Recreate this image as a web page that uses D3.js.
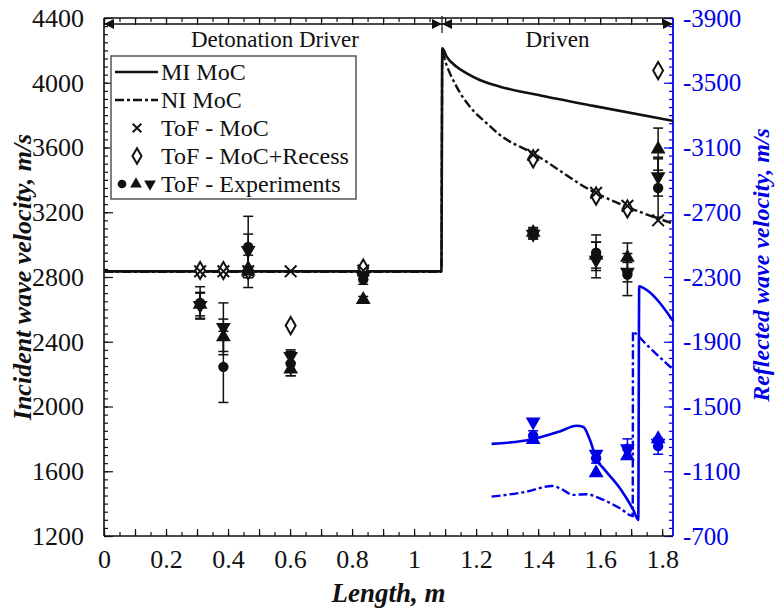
<!DOCTYPE html>
<html><head><meta charset="utf-8">
<script src="https://cdn.jsdelivr.net/npm/d3@7"></script>
<style>body{margin:0;background:#fff}svg{display:block}</style>
</head><body>
<svg id="chart" width="777" height="612"></svg>
<script>
// ---------- data ----------
const xTicks = [0, 0.2, 0.4, 0.6, 0.8, 1, 1.2, 1.4, 1.6, 1.8];
const xTickLabels = ["0", "0.2", "0.4", "0.6", "0.8", "1", "1.2", "1.4", "1.6", "1.8"];
const yTicks = [1200, 1600, 2000, 2400, 2800, 3200, 3600, 4000, 4400];
const yRTicks = [-700, -1100, -1500, -1900, -2300, -2700, -3100, -3500, -3900];

// incident MoC curves (m, m/s)
const miX = [0, 1.088, 1.091, 1.105, 1.137, 1.170, 1.212, 1.277, 1.384, 1.578, 1.835];
const miV = [2835, 2835, 4213, 4161, 4099, 4058, 4017, 3976, 3930, 3857, 3765];
const niX = [0, 1.088, 1.091, 1.096, 1.137, 1.180, 1.234, 1.277, 1.384, 1.578, 1.686, 1.835];
const niV = [2832, 2832, 4195, 4161, 3976, 3852, 3750, 3677, 3564, 3327, 3234, 3130];

// reflected MoC curves (m, m/s on right axis)
const miRX = [1.250, 1.382, 1.470, 1.524, 1.546, 1.567, 1.589, 1.610, 1.664, 1.707, 1.723, 1.726, 1.739, 1.836];
const miRV = [-1269, -1298, -1346, -1381, -1373, -1294, -1170, -1119, -995, -861, -799, -2243, -2233, -2027];
const niRX = [1.250, 1.363, 1.444, 1.470, 1.513, 1.557, 1.599, 1.664, 1.705, 1.706, 1.712, 1.750, 1.836];
const niRV = [-943, -974, -1009, -995, -954, -958, -933, -871, -824, -1964, -1955, -1882, -1727];

// time-of-flight points
const tofX = [0.310, 0.385, 0.465, 0.602, 0.836, 1.384, 1.587, 1.688, 1.787];
const tofMoC = [2835, 2835, 2835, 2835, 2840, 3555, 3320, 3240, 3150];
const tofRecess = [2840, 2840, 2840, 2500, 2855, 3530, 3300, 3220, 4075];
const expCircle = [2640, 2245, 2985, 2265, 2785, 3070, 2950, 2815, 3350];
const expCircleErr = [100, 220, 190, 75, 30, 35, 110, 130, 180];
const expUp = [2630, 2430, 2835, 2230, 2660, 3075, 2935, 2920, 3590];
const expUpErr = [70, 110, 100, 40, 20, 30, 80, 90, 130];
const expDown = [2625, 2490, 2965, 2310, 2805, 3065, 2905, 2830, 3420];
const expDownErr = [80, 150, 100, 40, 20, 30, 110, 60, 120];

// reflected experiments
const rX = [1.384, 1.587, 1.688, 1.787];
const rCircle = [-1320, -1180, -1240, -1255];
const rCircleErr = [30, 30, 60, 50];
const rUp = [-1295, -1090, -1195, -1300];
const rDown = [-1405, -1207, -1240, -1275];

const legendLabels = ["MI MoC", "NI MoC", "ToF - MoC", "ToF - MoC+Recess", "ToF - Experiments"];

// ---------- layout ----------
const L = 104, R = 673, T = 18, B = 536;
const BLUE = "#0000e6";
const FONT = "'Liberation Serif','Times New Roman',serif";
const svg = d3.select("#chart");
const x = d3.scaleLinear().domain([0, 1.835]).range([L, R]);
const y = d3.scaleLinear().domain([1200, 4400]).range([B, T]);
const yR = d3.scaleLinear().domain([-700, -3900]).range([B, T]);

function styleAxis(g, color, fs) {
  g.select(".domain").remove();
  g.selectAll("line").attr("stroke", color).attr("stroke-width", 1.2);
  g.selectAll("text").attr("fill", color).style("font-family", FONT).style("font-size", (fs || 25) + "px");
}

const minorX = d3.range(0, 1.8001, 0.05);
const midX = d3.range(0, 1.8001, 0.1);
const minorY = d3.range(1200, 4400.1, 50);
const minorYR = d3.range(-700, -3900.1, -50);

// bottom
svg.append("g").attr("transform", `translate(0,${B})`)
  .call(d3.axisBottom(x).tickValues(minorX).tickSize(-4).tickFormat("")).call(g => styleAxis(g, "#111"));
svg.append("g").attr("transform", `translate(0,${B})`)
  .call(d3.axisBottom(x).tickValues(midX).tickSize(-7).tickFormat("")).call(g => styleAxis(g, "#111"));
svg.append("g").attr("transform", `translate(0,${B})`)
  .call(d3.axisBottom(x).tickValues(xTicks).tickSize(0).tickPadding(14).tickFormat((d, i) => xTickLabels[i]))
  .call(g => styleAxis(g, "#111", 26));
// top
svg.append("g").attr("transform", `translate(0,${T})`)
  .call(d3.axisTop(x).tickValues(minorX).tickSize(-4).tickFormat("")).call(g => styleAxis(g, "#111"));
svg.append("g").attr("transform", `translate(0,${T})`)
  .call(d3.axisTop(x).tickValues(midX).tickSize(-7).tickFormat("")).call(g => styleAxis(g, "#111"));
// left
svg.append("g").attr("transform", `translate(${L},0)`)
  .call(d3.axisLeft(y).tickValues(minorY).tickSize(-4).tickFormat("")).call(g => styleAxis(g, "#111"));
svg.append("g").attr("transform", `translate(${L},0)`)
  .call(d3.axisLeft(y).tickValues(yTicks).tickSize(-9).tickPadding(20).tickFormat(d3.format("d")))
  .call(g => styleAxis(g, "#111", 26));
// right
svg.append("g").attr("transform", `translate(${R},0)`)
  .call(d3.axisRight(yR).tickValues(minorYR).tickSize(-4).tickFormat("")).call(g => styleAxis(g, BLUE));
svg.append("g").attr("transform", `translate(${R},0)`)
  .call(d3.axisRight(yR).tickValues(yRTicks).tickSize(-9).tickPadding(10).tickFormat(d => "-" + Math.abs(d)))
  .call(g => styleAxis(g, BLUE, 25));

// frame lines
svg.append("line").attr("x1", L).attr("x2", R).attr("y1", B).attr("y2", B).attr("stroke", "#111").attr("stroke-width", 1.6);
svg.append("line").attr("x1", L).attr("x2", R).attr("y1", T).attr("y2", T).attr("stroke", "#111").attr("stroke-width", 1.4);
svg.append("line").attr("x1", L).attr("x2", L).attr("y1", T).attr("y2", B).attr("stroke", "#111").attr("stroke-width", 1.6);
svg.append("line").attr("x1", R).attr("x2", R).attr("y1", T).attr("y2", B).attr("stroke", BLUE).attr("stroke-width", 1.8);

// top region arrows
const yArrow = 24, xSplit = x(1.09);
svg.append("line").attr("x1", L).attr("x2", R).attr("y1", yArrow).attr("y2", yArrow).attr("stroke", "#111").attr("stroke-width", 1.4);
function arrowHead(xt, dir) {
  svg.append("path").attr("d", `M${xt},${yArrow} L${xt - dir * 10},${yArrow - 5} L${xt - dir * 10},${yArrow + 5} Z`).attr("fill", "#111");
}
arrowHead(L, -1); arrowHead(xSplit, 1); arrowHead(xSplit, -1); arrowHead(R, 1);
svg.append("line").attr("x1", xSplit).attr("x2", xSplit).attr("y1", T - 2).attr("y2", 33).attr("stroke", "#111").attr("stroke-width", 1.2);
svg.append("text").attr("x", (L + xSplit) / 2 + 2).attr("y", 47).attr("text-anchor", "middle")
  .style("font-family", FONT).style("font-size", "23px").attr("fill", "#111").text("Detonation Driver");
svg.append("text").attr("x", (xSplit + R) / 2).attr("y", 47).attr("text-anchor", "middle")
  .style("font-family", FONT).style("font-size", "23px").attr("fill", "#111").text("Driven");

// ---------- lines ----------
const lineI = (xs, vs) => d3.line().x((d, i) => x(xs[i])).y(d => y(d)).curve(d3.curveMonotoneX)(vs);
const lineR = (xs, vs) => d3.line().x((d, i) => x(xs[i])).y(d => yR(d)).curve(d3.curveMonotoneX)(vs);
const DASH = "9,3,3,3";
svg.append("path").attr("d", lineI(niX, niV)).attr("fill", "none").attr("stroke", "#111").attr("stroke-width", 2.4).attr("stroke-dasharray", DASH);
svg.append("path").attr("d", lineI(miX, miV)).attr("fill", "none").attr("stroke", "#111").attr("stroke-width", 2.6);
svg.append("path").attr("d", lineR(niRX, niRV)).attr("fill", "none").attr("stroke", BLUE).attr("stroke-width", 2.4).attr("stroke-dasharray", DASH);
svg.append("path").attr("d", lineR(miRX, miRV)).attr("fill", "none").attr("stroke", BLUE).attr("stroke-width", 2.6);

// ---------- markers ----------
const sym = {
  circle: d3.symbol().type(d3.symbolCircle).size(85),
  tri: d3.symbol().type(d3.symbolTriangle).size(95),
  times: d3.symbol().type(d3.symbolTimes).size(90),
  diamond: d3.symbol().type(d3.symbolDiamond).size(85)
};
function errBars(xs, vs, es, sc, color) {
  const g = svg.append("g").attr("stroke", color).attr("stroke-width", 1.5);
  vs.forEach((v, i) => {
    const cx = x(xs[i]), y1 = sc(v - es[i]), y2 = sc(v + es[i]);
    g.append("line").attr("x1", cx).attr("x2", cx).attr("y1", y1).attr("y2", y2);
    g.append("line").attr("x1", cx - 5).attr("x2", cx + 5).attr("y1", y1).attr("y2", y1);
    g.append("line").attr("x1", cx - 5).attr("x2", cx + 5).attr("y1", y2).attr("y2", y2);
  });
}
function marks(xs, vs, sc, type, color, rot, hollow) {
  svg.append("g").selectAll("path").data(vs).join("path")
    .attr("d", sym[type]())
    .attr("transform", (d, i) => `translate(${x(xs[i])},${sc(d)}) rotate(${rot})`)
    .attr("fill", hollow ? "#fff" : color)
    .attr("stroke", color).attr("stroke-width", hollow || type === "times" ? 2 : 0);
}
errBars(tofX, expCircle, expCircleErr, y, "#111");
errBars(tofX, expUp, expUpErr, y, "#111");
errBars(tofX, expDown, expDownErr, y, "#111");
marks(tofX, tofRecess, y, "diamond", "#111", 0, true);
marks(tofX, tofMoC, y, "times", "#111", 0, false);
marks(tofX, expCircle, y, "circle", "#111", 0, false);
marks(tofX, expUp, y, "tri", "#111", 0, false);
marks(tofX, expDown, y, "tri", "#111", 180, false);

errBars(rX, rCircle, rCircleErr, yR, BLUE);
marks(rX, rCircle, yR, "circle", BLUE, 0, false);
marks(rX, rUp, yR, "tri", BLUE, 0, false);
marks(rX, rDown, yR, "tri", BLUE, 180, false);

// ---------- legend ----------
const lg = svg.append("g");
lg.append("rect").attr("x", 111).attr("y", 56).attr("width", 245).attr("height", 143)
  .attr("fill", "#fff").attr("stroke", "#555").attr("stroke-width", 1.5);
const ly = [72, 100, 128, 156, 184];
lg.append("line").attr("x1", 115).attr("x2", 158).attr("y1", ly[0]).attr("y2", ly[0]).attr("stroke", "#111").attr("stroke-width", 2.6);
lg.append("line").attr("x1", 115).attr("x2", 158).attr("y1", ly[1]).attr("y2", ly[1]).attr("stroke", "#111").attr("stroke-width", 2.4).attr("stroke-dasharray", DASH);
lg.append("path").attr("d", d3.symbol().type(d3.symbolTimes).size(50)()).attr("transform", `translate(137,${ly[2]})`).attr("stroke", "#111").attr("stroke-width", 2);
lg.append("path").attr("d", d3.symbol().type(d3.symbolDiamond).size(70)()).attr("transform", `translate(137,${ly[3]})`).attr("fill", "#fff").attr("stroke", "#111").attr("stroke-width", 2);
lg.append("path").attr("d", d3.symbol().type(d3.symbolCircle).size(60)()).attr("transform", `translate(122,${ly[4]})`).attr("fill", "#111");
lg.append("path").attr("d", d3.symbol().type(d3.symbolTriangle).size(60)()).attr("transform", `translate(136,${ly[4]})`).attr("fill", "#111");
lg.append("path").attr("d", d3.symbol().type(d3.symbolTriangle).size(60)()).attr("transform", `translate(150,${ly[4]}) rotate(180)`).attr("fill", "#111");
legendLabels.forEach((t, i) => {
  lg.append("text").attr("x", 161).attr("y", ly[i] + 8).style("font-family", FONT).style("font-size", "24px").attr("fill", "#111").text(t);
});

// ---------- titles ----------
svg.append("text").attr("transform", `translate(31,${(T + B) / 2}) rotate(-90)`).attr("text-anchor", "middle")
  .style("font-family", FONT).style("font-size", "26px").style("font-weight", "bold").style("font-style", "italic")
  .attr("fill", "#111").text("Incident wave velocity, m/s");
svg.append("text").attr("transform", `translate(769,265) rotate(-90)`).attr("text-anchor", "middle")
  .style("font-family", FONT).style("font-size", "24px").style("font-weight", "bold").style("font-style", "italic")
  .attr("fill", BLUE).text("Reflected wave velocity, m/s");
svg.append("text").attr("x", (L + R) / 2).attr("y", 602).attr("text-anchor", "middle")
  .style("font-family", FONT).style("font-size", "27px").style("font-weight", "bold").style("font-style", "italic")
  .attr("fill", "#111").text("Length, m");
</script>
</body></html>
